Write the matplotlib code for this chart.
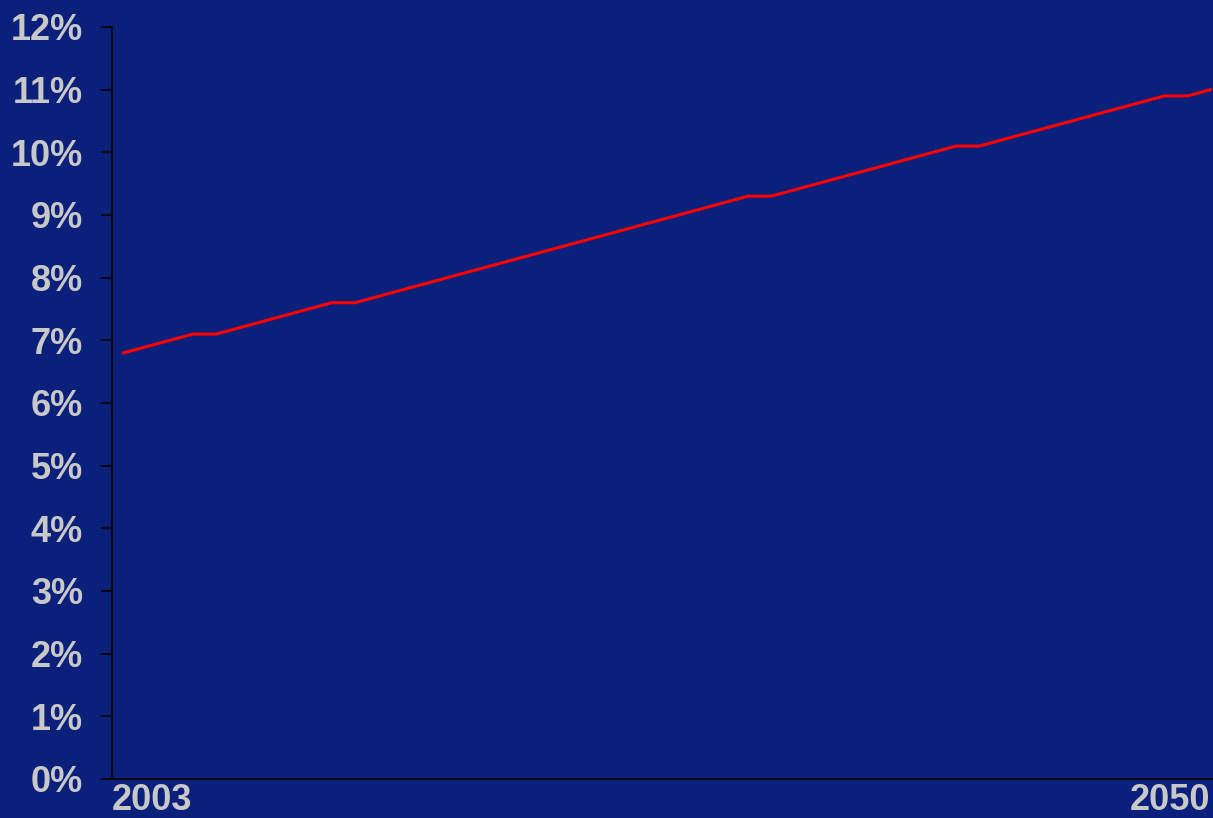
import matplotlib.pyplot as plt
from matplotlib.ticker import FuncFormatter
from matplotlib.transforms import ScaledTranslation

# share (%) per year, 2003 .. 2050
years = list(range(2003, 2051))
share = [6.8, 6.9, 7.0, 7.1, 7.1, 7.2, 7.3, 7.4, 7.5, 7.6,
         7.6, 7.7, 7.8, 7.9, 8.0, 8.1, 8.2, 8.3, 8.4, 8.5,
         8.6, 8.7, 8.8, 8.9, 9.0, 9.1, 9.2, 9.3, 9.3, 9.4,
         9.5, 9.6, 9.7, 9.8, 9.9, 10.0, 10.1, 10.1, 10.2, 10.3,
         10.4, 10.5, 10.6, 10.7, 10.8, 10.9, 10.9, 11.0]
shown_years = ["2003", "2050"]

bg = "#0b207a"
txt = "#c8c8c8"

plt.rcParams["font.family"] = ["Liberation Sans", "DejaVu Sans"]

fig = plt.figure(figsize=(12.13, 8.18), dpi=100, facecolor=bg)
ax = fig.add_axes([112 / 1213, 1 - 779 / 818, 1110 / 1213, 752 / 818])
ax.set_facecolor(bg)

x = list(range(len(years)))
ax.plot(x, share, color="#ff0000", linewidth=2.2)

ax.set_xlim(-0.5, len(years) - 0.5)
ax.set_ylim(0, 12)
ax.set_yticks(range(0, 13))
ax.yaxis.set_major_formatter(FuncFormatter(lambda v, p: f"{int(v)}%"))

ax.set_xticks([-0.5, len(years) - 1])
ax.set_xticklabels(shown_years)
labs = ax.get_xticklabels()
labs[0].set_ha("left")
labs[0].set_transform(labs[0].get_transform()
                      + ScaledTranslation(-6 / 100, 0, fig.dpi_scale_trans))
labs[1].set_ha("right")
labs[1].set_transform(labs[1].get_transform()
                      + ScaledTranslation(-2 / 100, 0, fig.dpi_scale_trans))

for s in ["top", "right"]:
    ax.spines[s].set_visible(False)
for s in ["left", "bottom"]:
    ax.spines[s].set_color("black")
    ax.spines[s].set_linewidth(1.2)

ax.tick_params(axis="y", colors="black", length=8, width=1.2, pad=13,
               labelcolor=txt, labelsize=26)
ax.tick_params(axis="x", length=0, pad=3, labelcolor=txt, labelsize=26)
for t in ax.get_xticklabels() + ax.get_yticklabels():
    t.set_fontweight("bold")

fig.savefig("out.png", dpi=100, facecolor=bg)
